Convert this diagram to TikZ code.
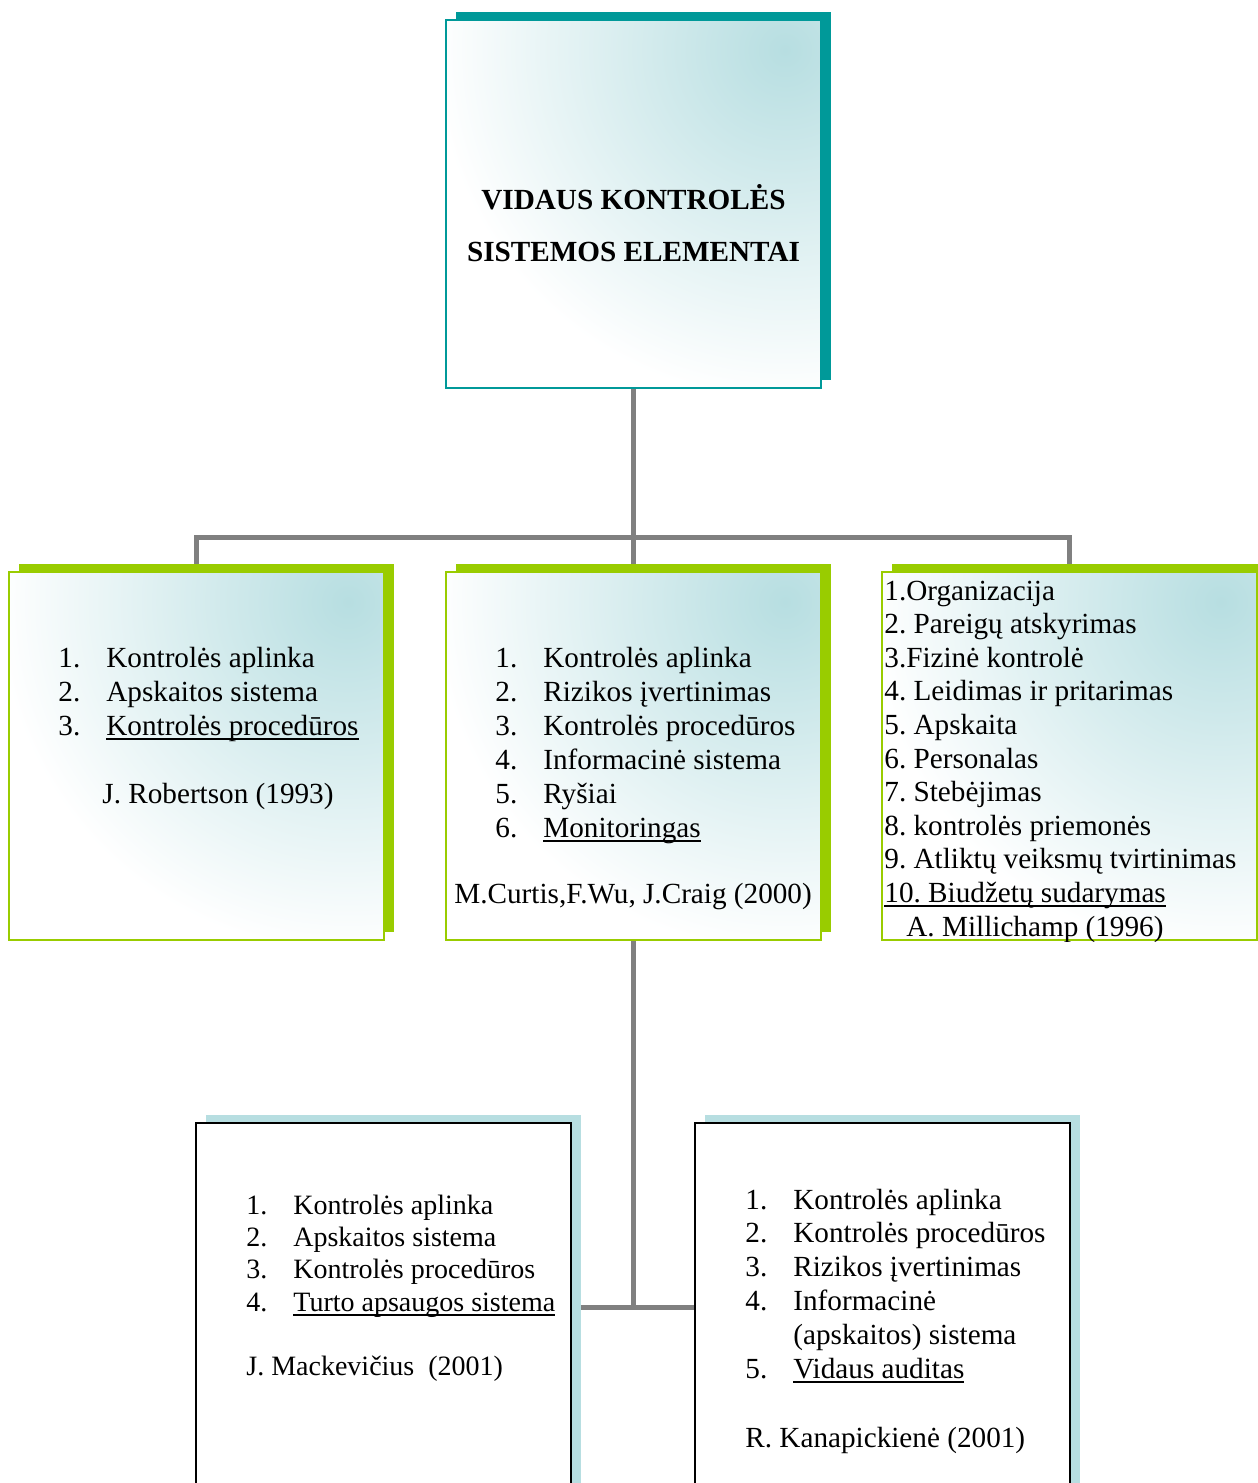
\documentclass[tikz,border=0pt]{standalone}
\usepackage{fontspec}
\setmainfont{Liberation Serif}
\usetikzlibrary{shadows,backgrounds}

\definecolor{boxteal}{RGB}{0,153,153}
\definecolor{boxgreen}{RGB}{153,204,0}
\definecolor{shadeblue}{RGB}{183,222,225}
\definecolor{linkgray}{RGB}{128,128,128}

% underline at a fixed depth, crossing the descenders
\newcommand\ulword[1]{\setbox0=\hbox{#1}\rlap{\rule[-2.5pt]{\wd0}{1pt}}\box0}

\tikzset{
  panel/.style={rectangle, minimum width=187.5pt, minimum height=184pt, inner sep=0pt, line width=1pt},
  tinted/.style={panel, draw=#1, fill=white,
    path picture={\shade[inner color=shadeblue, outer color=white]
      ([xshift=-18pt,yshift=-15pt]path picture bounding box.north east) circle (175pt);},
    general shadow={fill=#1, shadow xshift=5pt, shadow yshift=4pt}},
  whitepanel/.style={panel, draw=black, fill=white,
    general shadow={fill=shadeblue, shadow xshift=5pt, shadow yshift=4pt}},
  listtext/.style={anchor=base west, inner sep=0pt, font=\fontsize{14.6}{#1}\selectfont\frenchspacing},
  listtext/.default=17pt,
  link/.style={draw=linkgray, line width=2.5pt}
}

\begin{document}
\begin{tikzpicture}[x=0.5pt, y=-0.5pt]
  \useasboundingbox (0,0) rectangle (1258,1483);

  % boxes
  \node[tinted=boxteal] (top) at (633.5,204) {};
  \node[tinted=boxgreen] (rob) at (196.5,756) {};
  \node[tinted=boxgreen] (cur) at (633.5,756) {};
  \node[tinted=boxgreen] (mil) at (1069.5,756) {};
  \node[whitepanel] (mac) at (383.5,1307) {};
  \node[whitepanel] (kan) at (882.5,1307) {};

  % connectors
  \coordinate (hub) at (633.5,537);
  \begin{scope}[on background layer]
    \draw[link] (top.south) -- (hub);
    \draw[link] (rob.north) |- (hub) -| (mil.north);
    \draw[link] (hub) -- (cur.north);
    \draw[link] (cur.south) -- (cur.south |- mac.east);
    \draw[link] (mac.east) -- (kan.west);
  \end{scope}

  % title
  \node[anchor=base, inner sep=0pt, font=\fontsize{14.6}{26}\selectfont\bfseries] (ttl) at (633.5,209)
    {\begin{tabular}[t]{@{}c@{}}VIDAUS KONTROLĖS\\SISTEMOS ELEMENTAI\end{tabular}};

  % J. Robertson
  \node[listtext] (robList) at (58,667) {\begin{tabular}[t]{@{}p{24pt}@{}l@{}}
    1. & Kontrolės aplinka\\
    2. & Apskaitos sistema\\
    3. & \ulword{Kontrolės procedūros}
  \end{tabular}};
  \node[listtext] (robAuth) at (102,803) {J. Robertson (1993)};

  % M. Curtis
  \node[listtext] (curList) at (495,667) {\begin{tabular}[t]{@{}p{24pt}@{}l@{}}
    1. & Kontrolės aplinka\\
    2. & Rizikos įvertinimas\\
    3. & Kontrolės procedūros\\
    4. & Informacinė sistema\\
    5. & Ryšiai\\
    6. & \ulword{Monitoringas}
  \end{tabular}};
  \node[listtext] (curAuth) at (454,903) {M.Curtis,F.Wu, J.Craig (2000)};

  % A. Millichamp
  \begin{scope}
    \clip (mil.south west) rectangle (mil.north east);
    \node[listtext=16.8pt] (milList) at (884,600) {\begin{tabular}[t]{@{}l@{}}
      1.Organizacija\\
      2. Pareigų atskyrimas\\
      3.Fizinė kontrolė\\
      4. Leidimas ir pritarimas\\
      5. Apskaita\\
      6. Personalas\\
      7. Stebėjimas\\
      8. kontrolės priemonės\\
      9. Atliktų veiksmų tvirtinimas\\
      \ulword{10. Biudžetų sudarymas}
    \end{tabular}};
    \node[listtext] (milAuth) at (906,936) {A. Millichamp (1996)};
  \end{scope}

  % J. Mackevičius
  \node[listtext=16.2pt, font=\fontsize{14}{16.2}\selectfont\frenchspacing] (macList) at (246,1214)
    {\begin{tabular}[t]{@{}p{23.5pt}@{}l@{}}
    1. & Kontrolės aplinka\\
    2. & Apskaitos sistema\\
    3. & Kontrolės procedūros\\
    4. & \ulword{Turto apsaugos sistema}
  \end{tabular}};
  \node[listtext, font=\fontsize{14}{16.2}\selectfont] (macAuth) at (246,1375) {J. Mackevičius\ \ (2001)};

  % R. Kanapickienė
  \node[listtext=16.9pt] (kanList) at (745,1209) {\begin{tabular}[t]{@{}p{24pt}@{}l@{}}
    1. & Kontrolės aplinka\\
    2. & Kontrolės procedūros\\
    3. & Rizikos įvertinimas\\
    4. & Informacinė\\
       & (apskaitos) sistema\\
    5. & \ulword{Vidaus auditas}
  \end{tabular}};
  \node[listtext] (kanAuth) at (745,1447) {R. Kanapickienė (2001)};

\end{tikzpicture}
\end{document}
